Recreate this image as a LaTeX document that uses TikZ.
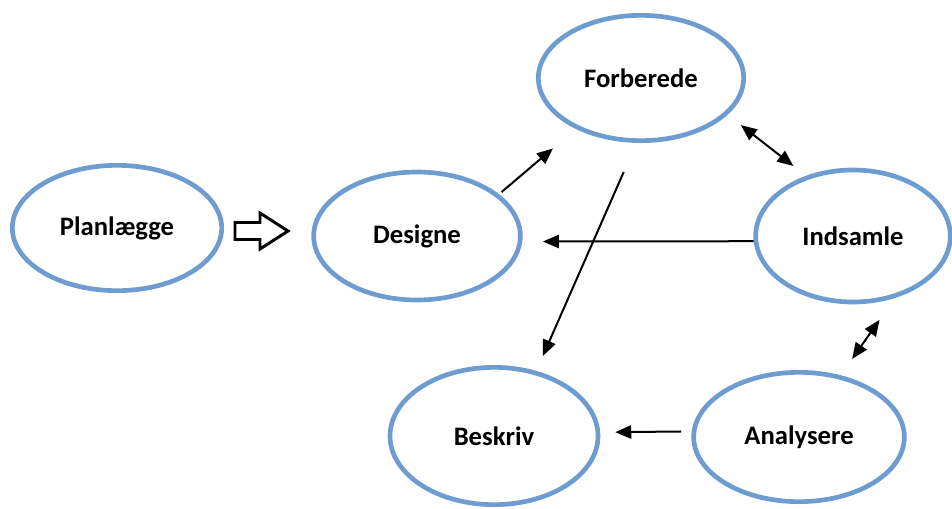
\documentclass[tikz,border=0pt]{standalone}
\usepackage{fontspec}
\setmainfont{Carlito}
\usetikzlibrary{shapes.geometric,arrows.meta}
\definecolor{ringblue}{RGB}{110,155,208}
\tikzset{
  phase/.style={draw=ringblue, line width=3.5pt, ellipse, inner sep=0pt,
    font=\fontsize{20}{24}\selectfont\bfseries},
  link/.style={line width=1.5pt, ->},
  twoway/.style={line width=1.5pt, <->},
  hollow/.style={draw, line width=2.2pt, line join=miter},
}
\begin{document}
\begin{tikzpicture}[x=0.75pt, y=-0.75pt, >={Triangle[length=12pt,width=10pt]}]
\useasboundingbox (0,0) rectangle (952,508);
% phases
\node[phase, minimum width=157pt, minimum height=94pt] (plan) at (117,228) {Planlægge};
\node[phase, minimum width=155pt, minimum height=96pt] (design) at (417,236) {Designe};
\node[phase, minimum width=154pt, minimum height=94pt] (forb) at (641,78) {Forberede};
\node[phase, minimum width=146pt, minimum height=99pt] (inds) at (853,236) {Indsamle};
\node[phase, minimum width=156pt, minimum height=103pt] (besk) at (494,436) {Beskriv};
\node[phase, minimum width=158pt, minimum height=97pt] (ana) at (799,437) {Analysere};
% hollow arrow
\path[hollow] (235,222.5) -- (260,222.5) -- (260,213) -- (288,231) -- (260,249)
  -- (260,239.5) -- (235,239.5) -- cycle;
% links
\draw[link, shorten <=2.5pt, shorten >=22.5pt] (design.27) -- (forb.218.5);
\draw[twoway, shorten <=12.6pt, shorten >=12pt] (forb.-23.6) -- (inds.128.6);
\draw[link, shorten >=15.5pt] (inds.183) -- (design.357.2);
\draw[link, shorten <=23.8pt, shorten >=12.2pt] (forb.266) -- (besk.57.4);
\draw[twoway, shorten <=20pt, shorten >=15pt] (inds.-56) -- (ana.56.5);
\draw[link, shorten <=8pt, shorten >=11.3pt] (ana.177.8) -- (besk.2.3);
\end{tikzpicture}
\end{document}
